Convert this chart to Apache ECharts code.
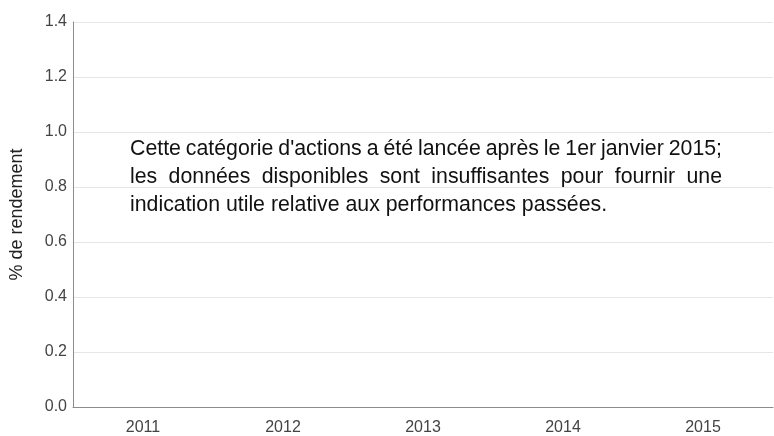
<!DOCTYPE html>
<html>
<head>
<meta charset="utf-8">
<script src="https://cdn.jsdelivr.net/npm/echarts@6/dist/echarts.min.js"></script>
<style>
  html, body { margin: 0; padding: 0; background: #fff; }
  #chart { width: 774px; height: 436px; }
</style>
</head>
<body>
<div id="chart"></div>
<script>
// categories (no returns yet, the share class is too young)
var years = ['2011', '2012', '2013', '2014', '2015'];
var returns = [null, null, null, null, null];
var noteLines = [
  "Cette catégorie d'actions a été lancée après le 1er janvier 2015;",
  "les données disponibles sont insuffisantes pour fournir une",
  "indication utile relative aux performances passées."
];

var FONT = 'Liberation Sans, Arial, sans-serif';
var noteLeft = 130, noteWidth = 592, noteTop = 139, lineGap = 28;

// measure text so the first two lines can be justified like the original
var ctx = document.createElement('canvas').getContext('2d');
function measure(s, size) {
  ctx.font = size + 'px ' + FONT;
  return ctx.measureText(s).width;
}
var noteSize = Math.round(478 / measure(noteLines[2], 100) * 1000) / 10;

var graphics = [];
noteLines.forEach(function (line, i) {
  var y = noteTop + i * lineGap;
  if (i === noteLines.length - 1) {
    graphics.push({
      type: 'text', left: noteLeft, top: y,
      style: { text: line, font: noteSize + 'px ' + FONT, fill: '#111' }
    });
    return;
  }
  var words = line.split(' ');
  var total = 0;
  words.forEach(function (w) { total += measure(w, noteSize); });
  var gap = (noteWidth - total) / (words.length - 1);
  var x = noteLeft;
  words.forEach(function (w) {
    graphics.push({
      type: 'text', left: x, top: y,
      style: { text: w, font: noteSize + 'px ' + FONT, fill: '#111' }
    });
    x += measure(w, noteSize) + gap;
  });
});

var chart = echarts.init(document.getElementById('chart'), null, { renderer: 'canvas' });
chart.setOption({
  animation: false,
  textStyle: { fontFamily: FONT },
  grid: { left: 73, right: 1, top: 22, bottom: 25 },
  xAxis: {
    type: 'category',
    data: years,
    axisLine: { lineStyle: { color: '#8c8c8c' } },
    axisTick: { show: false },
    axisLabel: { color: '#444', fontSize: 16, margin: 13 }
  },
  yAxis: {
    type: 'value',
    min: 0,
    max: 1.4,
    interval: 0.2,
    name: '% de rendement',
    nameLocation: 'middle',
    nameGap: 47,
    nameTextStyle: { color: '#222', fontSize: 18 },
    axisLine: { show: true, lineStyle: { color: '#8c8c8c' } },
    axisTick: { show: false },
    axisLabel: {
      color: '#444', fontSize: 16, margin: 6,
      formatter: function (v) { return v.toFixed(1); }
    },
    splitLine: { lineStyle: { color: '#e6e6e6' } }
  },
  series: [{
    type: 'line',
    data: returns,
    showSymbol: false
  }],
  graphic: graphics
});
</script>
</body>
</html>
